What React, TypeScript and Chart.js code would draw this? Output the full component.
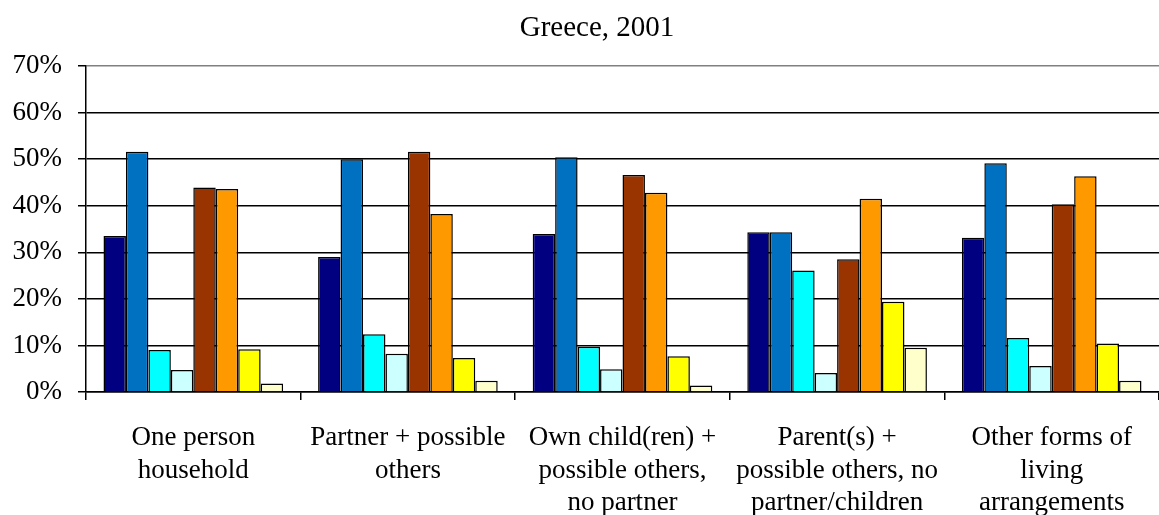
import React, { useEffect, useRef } from "react";
import { Chart, registerables } from "chart.js";

Chart.register(...registerables);

const title = "Greece, 2001";
const categories: string[][] = [
  ["One person", "household"],
  ["Partner + possible", "others"],
  ["Own child(ren) +", "possible others,", "no partner"],
  ["Parent(s) +", "possible others, no", "partner/children"],
  ["Other forms of", "living", "arrangements"],
];
const seriesNames = ["Series 1", "Series 2", "Series 3", "Series 4", "Series 5", "Series 6", "Series 7", "Series 8"];
const series1 = [33.5, 29.0, 33.9, 34.3, 33.1];
const series2 = [51.6, 50.0, 50.4, 34.3, 49.1];
const series3 = [9.0, 12.4, 9.7, 26.1, 11.6];
const series4 = [4.7, 8.2, 4.9, 4.1, 5.6];
const series5 = [43.9, 51.6, 46.6, 28.5, 40.3];
const series6 = [43.6, 38.2, 42.8, 41.5, 46.3];
const series7 = [9.2, 7.3, 7.7, 19.4, 10.4];
const series8 = [1.8, 2.4, 1.4, 9.5, 2.4];
const colors = ["#000080", "#0070C0", "#00FFFF", "#CCFFFF", "#993300", "#FF9900", "#FFFF00", "#FFFFCC"];
const yTicks = [0, 10, 20, 30, 40, 50, 60, 70];

const FONT = "'Liberation Serif', 'Times New Roman', serif";

const titlePlugin = {
  id: "customTitle",
  afterDraw(chart: any) {
    const ctx = chart.ctx;
    ctx.save();
    ctx.font = `normal 29px ${FONT}`;
    ctx.fillStyle = "#000";
    ctx.textAlign = "center";
    ctx.textBaseline = "middle";
    ctx.fillText(title, 597, 28);
    ctx.restore();
  },
};

export default function App() {
  const ref = useRef<HTMLCanvasElement | null>(null);
  useEffect(() => {
    if (!ref.current) return;
    const all = [series1, series2, series3, series4, series5, series6, series7, series8];
    const chart = new Chart(ref.current, {
      type: "bar",
      data: {
        labels: categories,
        datasets: all.map((d, i) => ({
          label: seriesNames[i],
          data: d,
          backgroundColor: colors[i],
          borderColor: "#000000",
          borderWidth: 1.5,
          categoryPercentage: 0.837,
          barPercentage: 1,
        })),
      },
      plugins: [titlePlugin],
      options: {
        responsive: false,
        animation: false,
        layout: { padding: { left: 0, right: 0, top: 66, bottom: 0 } },
        plugins: {
          legend: { display: false },
          tooltip: { enabled: false },
          title: { display: false },
        },
        scales: {
          x: {
            offset: true,
            grid: {
              display: true,
              offset: true,
              drawOnChartArea: false,
              drawTicks: true,
              tickLength: 8,
              color: "#000",
              lineWidth: 1.5,
            },
            border: { display: true, color: "#000", width: 1.5 },
            ticks: {
              color: "#000",
              font: { family: FONT, size: 27, lineHeight: 1.2 },
              padding: 22,
              maxRotation: 0,
              minRotation: 0,
              autoSkip: false,
            },
            afterFit: (s: any) => {
              s.height = 123;
            },
          },
          y: {
            min: 0,
            max: 70,
            afterBuildTicks: (s: any) => {
              s.ticks = yTicks.map((v) => ({ value: v }));
            },
            grid: {
              color: (ctx: any) => (ctx.tick && ctx.tick.value === 70 ? "#808080" : "#000"),
              tickColor: "#000",
              lineWidth: 1.5,
              tickLength: 8,
            },
            border: { display: true, color: "#000", width: 1.5 },
            ticks: {
              color: "#000",
              font: { family: FONT, size: 27 },
              padding: 16,
              callback: (v: any) => v + "%",
            },
            afterFit: (s: any) => {
              s.width = 86;
            },
          },
        },
      },
    });
    return () => chart.destroy();
  }, []);
  return (
    <div style={{ position: "absolute", left: 0, top: 0, width: 1159, height: 515, background: "#fff" }}>
      <canvas ref={ref} width={1159} height={515} />
    </div>
  );
}
